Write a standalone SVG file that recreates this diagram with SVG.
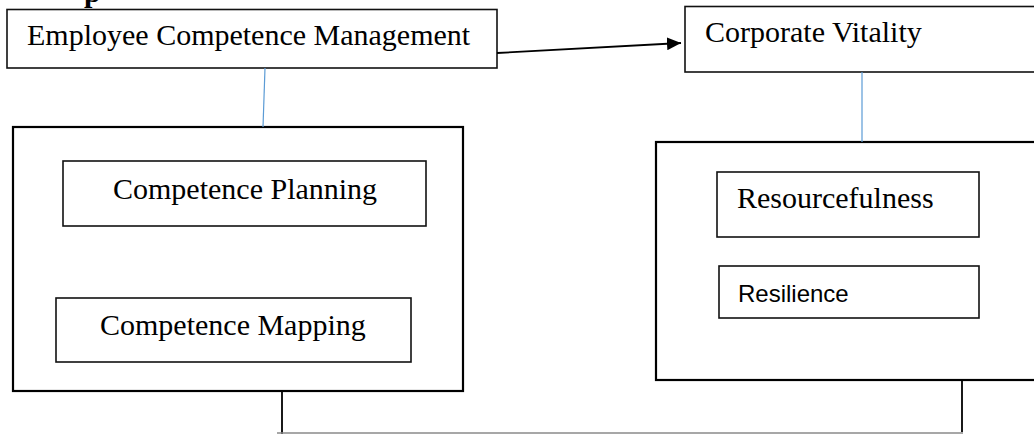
<svg xmlns="http://www.w3.org/2000/svg" width="1034" height="434" viewBox="0 0 1034 434">
<style>
.bg{fill:#fff}
.outer{fill:#fff;stroke:#000;stroke-width:2.2}
.box{fill:#fff;stroke:#111;stroke-width:1.6}
.serif{font-family:"Liberation Serif","Times New Roman",serif;font-size:30px;fill:#000}
.sans{font-family:"Liberation Sans",Arial,sans-serif;font-size:24px;fill:#000}
.blue{stroke:#5B9BD5;stroke-width:1.2;fill:none}
.blk{stroke:#000;stroke-width:1.8;fill:none}
.gray{stroke:#8a8a8a;stroke-width:1.6;fill:none}
</style>
<defs>
<marker id="arrow" markerWidth="14" markerHeight="13" refX="14" refY="6.5" orient="auto" markerUnits="userSpaceOnUse">
<path d="M0,0 L14,6.5 L0,13 Z" fill="#000"/>
</marker>
</defs>
<rect class="bg" x="0" y="0" width="1034" height="434"/>
<text x="84" y="2" class="serif" font-weight="bold">p</text>
<g id="ecm">
<rect class="box" x="7" y="9.5" width="490" height="58.5"/>
<text class="serif" x="27" y="45">Employee Competence Management</text>
</g>
<g id="cv">
<rect class="box" x="685" y="6.5" width="360" height="65.5"/>
<text class="serif" x="705" y="42">Corporate Vitality</text>
</g>
<g id="ecm-group">
<rect class="outer" x="13" y="127" width="450" height="264"/>
</g>
<g id="competence-planning">
<rect class="box" x="63" y="161" width="363" height="65"/>
<text class="serif" x="113" y="199">Competence Planning</text>
</g>
<g id="competence-mapping">
<rect class="box" x="56" y="298" width="355" height="64"/>
<text class="serif" x="100" y="335">Competence Mapping</text>
</g>
<g id="cv-group">
<rect class="outer" x="656" y="142" width="400" height="238"/>
</g>
<g id="resourcefulness">
<rect class="box" x="717" y="172" width="262" height="65"/>
<text class="serif" x="737" y="208">Resourcefulness</text>
</g>
<g id="resilience">
<rect class="box" x="719" y="266" width="260" height="52"/>
<text class="sans" x="738" y="302">Resilience</text>
</g>
<g id="connectors">
<line class="blk" x1="497" y1="53" x2="681" y2="43" marker-end="url(#arrow)"/>
<line class="blue" x1="265" y1="68" x2="263" y2="127"/>
<line class="blue" x1="862" y1="72" x2="862" y2="142"/>
<line class="blk" x1="282" y1="391" x2="282" y2="434"/>
<line class="blk" x1="962" y1="380" x2="962" y2="432"/>
<line class="gray" x1="277" y1="433" x2="963" y2="433"/>
</g>
</svg>
